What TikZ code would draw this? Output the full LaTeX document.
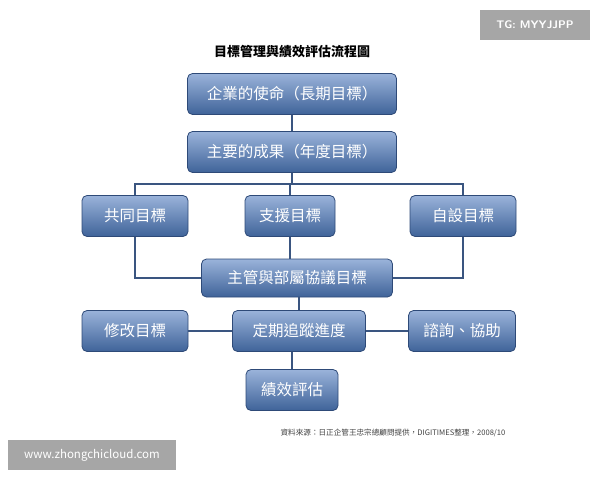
\documentclass[tikz,border=0pt]{standalone}
\usepackage{fontspec}
\newfontfamily\cjk{Noto Sans CJK TC}
\setmainfont{Noto Sans CJK TC}
\definecolor{btop}{HTML}{9AB3DA}
\definecolor{bbot}{HTML}{3F6399}
\definecolor{bedge}{HTML}{2E4A78}
\definecolor{lnc}{HTML}{3A5580}
\begin{document}
\begin{tikzpicture}[x=1pt,y=-1pt,
  bx/.style={draw=bedge, line width=0.8pt, rounded corners=5pt, top color=btop, bottom color=bbot, text=white, font=\cjk\fontsize{15.5}{17}\selectfont, inner sep=0pt, minimum height=41pt},
  ln/.style={draw=lnc, line width=1.2pt},
  wm/.style={fill=black!35, text=white, inner sep=0pt}]
\useasboundingbox (0,0) rectangle (600,480);
\node[wm, minimum width=110pt, minimum height=30pt, font=\sffamily\bfseries\fontsize{11}{12}\selectfont] (tg) at (535,25) {TG: MYYJJPP};
\node[wm, minimum width=168pt, minimum height=30pt, font=\fontsize{11.5}{12}\selectfont] (www) at (92,455) {www.zhongchicloud.com};
\node[font=\cjk\bfseries\fontsize{13}{15}\selectfont] (title) at (292,52) {目標管理與績效評估流程圖};
\node[font=\cjk\fontsize{7.6}{9}\selectfont, text=black!75] (src) at (393,433) {資料來源：日正企管王忠宗總顧問提供，DIGITIMES整理，2008/10};
\node[bx, minimum width=209pt] (a) at (292,94) {企業的使命（長期目標）};
\node[bx, minimum width=209pt] (b) at (292,152) {主要的成果（年度目標）};
\node[bx, minimum width=106pt] (c1) at (135,216) {共同目標};
\node[bx, minimum width=90pt] (c2) at (290,216) {支援目標};
\node[bx, minimum width=106pt] (c3) at (463,216) {自設目標};
\node[bx, minimum width=191pt, minimum height=38pt] (d) at (297,278) {主管與部屬協議目標};
\node[bx, minimum width=106pt] (e1) at (135,331) {修改目標};
\node[bx, minimum width=133pt] (e2) at (299,331) {定期追蹤進度};
\node[bx, minimum width=107pt] (e3) at (462,331) {諮詢、協助};
\node[bx, minimum width=92pt] (f) at (292,390) {績效評估};
\coordinate (h) at (292,184);
\draw[ln] (a) -- (b);
\draw[ln] (b.south) -- (h);
\draw[ln] (c1.north) |- (h) -| (c3.north);
\draw[ln] (h) -| (c2.north);
\draw[ln] (c1.south) |- (d.west);
\draw[ln] (c3.south) |- (d.east);
\draw[ln] (c2.south) -- (c2.south |- d.north);
\draw[ln] (d.south -| e2.north) -- (e2.north);
\draw[ln] (e1) -- (e2);
\draw[ln] (e2) -- (e3);
\draw[ln] (e2.south -| f.north) -- (f.north);
\end{tikzpicture}
\end{document}
